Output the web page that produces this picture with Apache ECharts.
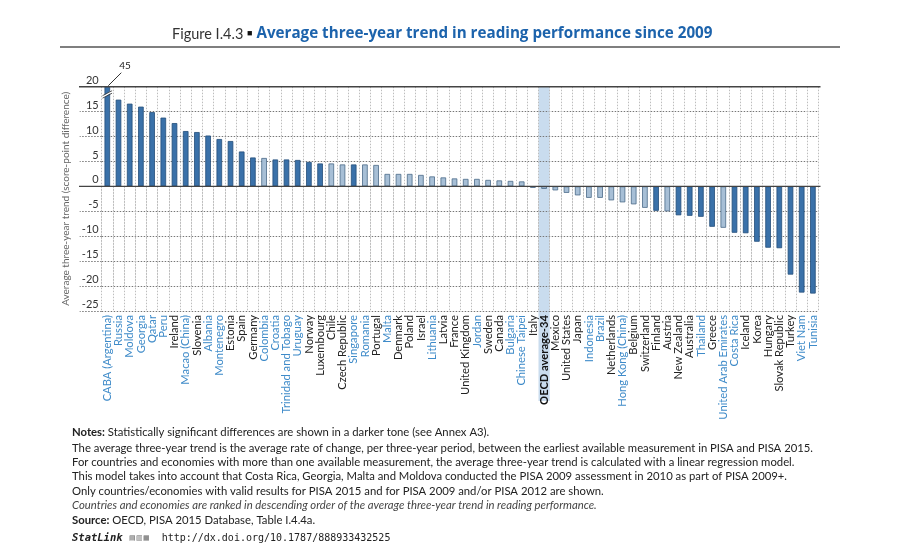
<!DOCTYPE html>
<html>
<head>
<meta charset="utf-8">
<script src="https://cdn.jsdelivr.net/npm/echarts@6/dist/echarts.min.js"></script>
<style>html,body{margin:0;padding:0;background:#fff;}#c{width:907px;height:544px;}</style>
</head>
<body>
<div id="c"></div>
<script>
const categories = ["CABA (Argentina)","Russia","Moldova","Georgia","Qatar","Peru","Ireland","Macao (China)","Slovenia","Albania","Montenegro","Estonia","Spain","Germany","Colombia","Croatia","Trinidad and Tobago","Uruguay","Norway","Luxembourg","Chile","Czech Republic","Singapore","Romania","Portugal","Malta","Denmark","Poland","Israel","Lithuania","Latvia","France","United Kingdom","Jordan","Sweden","Canada","Bulgaria","Chinese Taipei","Italy","OECD average-34","Mexico","United States","Japan","Indonesia","Brazil","Netherlands","Hong Kong (China)","Belgium","Switzerland","Finland","Austria","New Zealand","Australia","Thailand","Greece","United Arab Emirates","Costa Rica","Iceland","Korea","Hungary","Slovak Republic","Turkey","Viet Nam","Tunisia"];
const trendValues = [45,17.4,16.6,16.0,14.9,13.8,12.7,11.1,10.9,10.2,9.5,9.1,7.0,5.8,5.7,5.4,5.4,5.3,4.9,4.6,4.6,4.4,4.4,4.4,4.3,2.5,2.5,2.5,2.3,2.0,1.8,1.6,1.5,1.5,1.3,1.2,1.1,1.0,-0.3,-0.5,-0.8,-1.3,-1.8,-2.3,-2.3,-2.8,-3.2,-3.6,-4.3,-4.9,-5.0,-5.8,-5.9,-6.1,-8.1,-8.3,-9.3,-9.4,-11.1,-12.3,-12.4,-17.7,-21.3,-21.5];
// 1 = statistically significant (darker tone)
const significant = [1,1,1,1,1,1,1,1,1,1,1,1,1,1,0,1,1,1,1,1,0,0,1,0,0,0,0,0,0,0,0,0,0,0,0,0,0,0,0,0,0,0,0,0,0,0,0,0,0,1,0,1,1,1,1,0,1,1,1,1,1,1,1,1];
// 1 = partner country/economy (blue label)
const partner = [1,1,1,1,1,1,0,1,0,1,1,0,0,0,1,1,1,1,0,0,0,0,1,1,0,1,0,0,0,1,0,0,0,1,0,0,1,1,0,0,0,0,0,1,1,0,1,0,0,0,0,0,0,1,0,1,1,0,0,0,0,0,1,1];
const yTicks = {min: -25, max: 20, interval: 5};
const brokenLabel = "45";
const averageName = "OECD average-34";

const DARK = '#3a71a9', DARK_B = '#234e7a', LIGHT = '#a7bfd6', LIGHT_B = '#4a6988';
const chart = echarts.init(document.getElementById('c'));
const font = 'Lato';

const xData = categories.map((c, i) => ({
  value: c,
  textStyle: {
    color: c === averageName ? '#111' : (partner[i] ? '#3f8bc9' : '#222'),
    fontWeight: c === averageName ? 'bold' : 'normal'
  }
}));
const barData = trendValues.map((v, i) => ({
  value: v,
  itemStyle: {
    color: significant[i] ? DARK : LIGHT,
    borderColor: significant[i] ? DARK_B : LIGHT_B,
    borderWidth: 0.8
  }
}));

const option = {
  animation: false,
  grid: {left: 101.7, right: 88.5, top: 86.7, bottom: 233, containLabel: false},
  xAxis: {
    type: 'category',
    data: xData,
    axisLine: {show: false},
    axisTick: {show: true, length: 100, lineStyle: {color: '#bdbdbd', type: [1.5, 1.5], width: 1}},
    splitLine: {show: true, lineStyle: {color: '#bdbdbd', type: [1.5, 1.5], width: 1}},
    axisLabel: {interval: 0, rotate: 90, margin: 4, fontFamily: font, fontSize: 11.2}
  },
  yAxis: {
    type: 'value',
    min: yTicks.min, max: yTicks.max, interval: yTicks.interval,
    name: 'Average three-year trend (score-point difference)',
    nameLocation: 'middle', nameGap: 25, nameRotate: 90,
    nameTextStyle: {fontFamily: font, fontSize: 10, color: '#666'},
    axisLine: {show: false},
    axisTick: {show: true, length: 22, lineStyle: {color: '#777', type: [1.5, 1.5]}},
    splitLine: {show: true, lineStyle: {color: '#777', type: [1.5, 1.5], width: 1}},
    axisLabel: {margin: 3, verticalAlign: 'bottom', fontFamily: font, fontSize: 11, color: '#333', padding: [0, 0, 1, 0]}
  },
  series: [{
    type: 'bar', data: barData, barWidth: '50%', clip: true, z: 3
  }]
};
chart.setOption(option);

function px(i, v) { return chart.convertToPixel({xAxisIndex: 0, yAxisIndex: 0}, [i, v]); }
const p0 = px(0, yTicks.max);
const p1 = px(1, yTicks.max);
const bw = p1[0] - p0[0];
const yTop = p0[1];
const yZero = px(0, 0)[1];
const xRight = px(categories.length - 1, 0)[0] + bw / 2;
const avgIdx = categories.indexOf(averageName);
const pa = px(avgIdx, 0);
const yBreak = px(0, 18.6)[1];
const barHalf = bw * 0.25;

const notesY = 432;
const nf = 11.3;
const lh = 14.3;
function note(y, text, extra) {
  return {type: 'text', x: 72, y: y, style: Object.assign({text: text, fontFamily: font, fontSize: nf, fill: '#222', verticalAlign: 'middle',
    rich: {b: {fontWeight: 'bold', fontFamily: font, fontSize: nf, fill: '#222'}}}, extra || {})};
}
chart.setOption({
  graphic: [
    {type: 'rect', z: -5, silent: true,
     shape: {x: pa[0] - bw / 2, y: yTop, width: bw, height: 401 - yTop},
     style: {fill: '#c9dcee'}},
    {type: 'line', z: 10, shape: {x1: 79, y1: yTop, x2: xRight + 2, y2: yTop}, style: {stroke: '#444', lineWidth: 1.6}},
    {type: 'line', z: 10, shape: {x1: 79, y1: yZero, x2: xRight + 2, y2: yZero}, style: {stroke: '#444', lineWidth: 1.4}},
    // break mark on the CABA bar
    {type: 'polygon', z: 20, shape: {points: [[p0[0] - barHalf - 1, yBreak + 2], [p0[0] + barHalf + 1, yBreak - 3], [p0[0] + barHalf + 1, yBreak - 1], [p0[0] - barHalf - 1, yBreak + 4]]}, style: {fill: '#fff'}},
    {type: 'line', z: 21, shape: {x1: p0[0] - barHalf - 2, y1: yBreak + 2, x2: p0[0] + barHalf + 2, y2: yBreak - 3}, style: {stroke: '#333', lineWidth: 0.8}},
    {type: 'line', z: 21, shape: {x1: p0[0] - barHalf - 2, y1: yBreak + 4.5, x2: p0[0] + barHalf + 2, y2: yBreak - 0.5}, style: {stroke: '#333', lineWidth: 0.8}},
    // leader line and value for broken bar
    {type: 'line', z: 21, shape: {x1: p0[0] + 1, y1: yTop - 1, x2: p0[0] + 14, y2: yTop - 14}, style: {stroke: '#333', lineWidth: 1}},
    {type: 'text', z: 21, x: p0[0] + 12, y: yTop - 16, style: {text: brokenLabel, fontFamily: font, fontSize: 10, fill: '#222', verticalAlign: 'bottom'}},
    // title
    {type: 'text', x: 172, y: 34, style: {
      text: '{a|Figure I.4.3 }{s|■}{b| Average three-year trend in reading performance since 2009}',
      verticalAlign: 'middle',
      rich: {
        a: {fontFamily: 'Lato', fontSize: 14.5, fill: '#333'},
        s: {fontSize: 9, fill: '#111'},
        b: {fontFamily: 'Open Sans', fontWeight: 'bold', fontSize: 15.2, fill: '#1c63ac'}
      }}},
    {type: 'line', shape: {x1: 60, y1: 47, x2: 840, y2: 47}, style: {stroke: '#555', lineWidth: 1.5}},
    // notes
    note(notesY, '{b|Notes:} Statistically significant differences are shown in a darker tone (see Annex A3).'),
    note(notesY + 16, 'The average three-year trend is the average rate of change, per three-year period, between the earliest available measurement in PISA and PISA 2015.'),
    note(notesY + 16 + lh, 'For countries and economies with more than one available measurement, the average three-year trend is calculated with a linear regression model.'),
    note(notesY + 16 + lh * 2, 'This model takes into account that Costa Rica, Georgia, Malta and Moldova conducted the PISA 2009 assessment in 2010 as part of PISA 2009+.'),
    note(notesY + 59, 'Only countries/economies with valid results for PISA 2015 and for PISA 2009 and/or PISA 2012 are shown.'),
    note(notesY + 73.5, 'Countries and economies are ranked in descending order of the average three-year trend in reading performance.', {fontStyle: 'italic', fill: '#444'}),
    note(notesY + 88, '{b|Source:} OECD, PISA 2015 Database, Table I.4.4a.'),
    {type: 'text', x: 72, y: notesY + 106, style: {text: '{i|StatLink} {g|▤▥▦}  http://dx.doi.org/10.1787/888933432525', fontFamily: 'DejaVu Sans Mono', fontSize: 10, fill: '#222', verticalAlign: 'middle', rich: {i: {fontFamily: 'DejaVu Sans Mono', fontStyle: 'italic', fontWeight: 'bold', fontSize: 10.5, fill: '#222'}, g: {fontSize: 7, fill: '#666'}}}}
  ]
});
</script>
</body>
</html>
